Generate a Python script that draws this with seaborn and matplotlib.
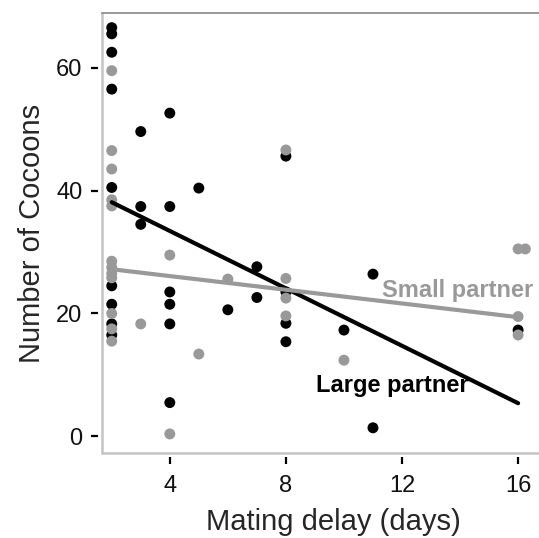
import pandas as pd
import matplotlib.pyplot as plt
import seaborn as sns

# data
large_delay = [2, 2, 2, 2, 2, 2, 2, 2, 2,
               3, 3, 3,
               4, 4, 4, 4, 4, 4,
               5, 6, 7, 7,
               8, 8, 8, 8,
               10, 11, 11, 16]
large_cocoons = [66.5, 65.5, 62.5, 56.5, 40.5, 24.5, 21.5, 18.3, 16.5,
                 49.6, 37.4, 34.5,
                 52.6, 37.4, 23.5, 21.5, 18.3, 5.5,
                 40.4, 20.6, 27.6, 22.6,
                 45.6, 23.5, 18.4, 15.4,
                 17.3, 26.4, 1.4, 17.3]

small_delay = [2, 2, 2, 2, 2, 2, 2, 2, 2, 2, 2, 2,
               3, 4, 4, 5, 6,
               8, 8, 8, 8,
               10, 16, 16.25, 16, 16]
small_cocoons = [59.5, 46.5, 43.5, 38.5, 37.5, 28.5, 27.5, 26.5, 25.8, 20.0, 17.5, 15.5,
                 18.3, 29.5, 0.4, 13.4, 25.6,
                 46.6, 25.7, 22.5, 19.6,
                 12.4, 30.5, 30.5, 19.5, 16.5]

# fitted lines as drawn in the figure (end values)
fit_delay = [2, 16]
fit_large = [38.1, 5.4]
fit_small = [27.2, 19.4]

df = pd.concat([
    pd.DataFrame({"delay": large_delay, "cocoons": large_cocoons, "partner": "Large partner"}),
    pd.DataFrame({"delay": small_delay, "cocoons": small_cocoons, "partner": "Small partner"}),
])
fit = pd.concat([
    pd.DataFrame({"delay": fit_delay, "cocoons": fit_large, "partner": "Large partner"}),
    pd.DataFrame({"delay": fit_delay, "cocoons": fit_small, "partner": "Small partner"}),
])

sns.set_theme(style="white")
plt.rcParams["font.family"] = ["Liberation Sans", "DejaVu Sans"]

farby = {"Large partner": "#000000", "Small partner": "#999999"}

fig = plt.figure(figsize=(5.39, 5.38), dpi=100)
ax = fig.add_axes([0.189, 0.158, 0.811, 0.818])

sns.scatterplot(data=df, x="delay", y="cocoons", hue="partner",
                hue_order=["Small partner", "Large partner"], palette=farby,
                s=62, linewidth=0, legend=False, ax=ax, zorder=3)

sns.lineplot(data=fit, x="delay", y="cocoons", hue="partner",
             hue_order=["Large partner", "Small partner"], palette=farby,
             lw=3.0, legend=False, ax=ax, zorder=4)

ax.text(13.9, 23.7, "Small partner", color="#999999", fontsize=17,
        fontweight="bold", ha="center", va="center", zorder=5)
ax.text(11.65, 8.2, "Large partner", color="#000000", fontsize=17,
        fontweight="bold", ha="center", va="center", zorder=5)

ax.set_xlim(1.66, 16.72)
ax.set_ylim(-2.7, 68.9)
ax.set_xticks([4, 8, 12, 16])
ax.set_yticks([0, 20, 40, 60])
ax.set_xlabel("Mating delay (days)", fontsize=21)
ax.set_ylabel("Number of Cocoons", fontsize=21, labelpad=7)
ax.xaxis.set_label_coords(0.53, -0.125)
ax.tick_params(direction="out", length=5, width=1.6, color="black",
               labelsize=17, pad=6, left=True, bottom=True, labelcolor="#111111")
ax.tick_params(axis="x", pad=8)

# ticks odsazené od rámu
for strana in ["left", "bottom"]:
    ax.spines[strana].set_position(("outward", 3))
    ax.spines[strana].set_visible(False)
ax.spines["right"].set_visible(False)
ax.spines["top"].set_color("#888888")
ax.spines["top"].set_linewidth(1.2)
ax.axvline(1.66, color="#c4c4c4", lw=1.8, clip_on=False, zorder=1)
ax.axhline(-2.7, color="#c4c4c4", lw=1.8, clip_on=False, zorder=1)

plt.savefig("out.png", dpi=100)
